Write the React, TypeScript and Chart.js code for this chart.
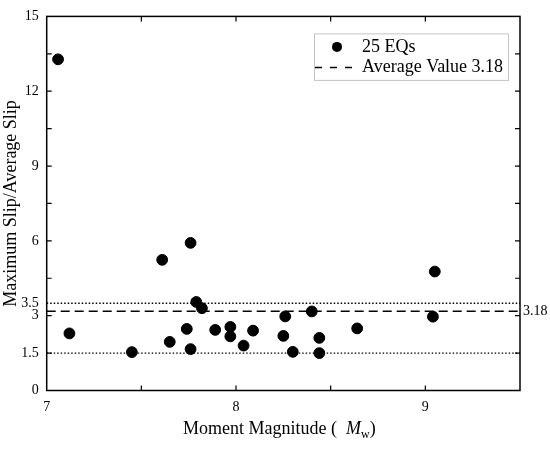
import { useEffect, useRef } from "react";
import { Chart, registerables } from "chart.js";

Chart.register(...registerables);

// moment magnitude (Mw) and max/average slip ratio of each event
const magnitudes = [
  7.06, 7.12, 7.45, 7.61, 7.65, 7.74, 7.76, 7.76, 7.79, 7.82, 7.89, 7.97,
  7.97, 8.04, 8.09, 8.25, 8.26, 8.3, 8.4, 8.44, 8.44, 8.64, 9.04, 9.05,
];
const slipRatios = [
  13.28, 2.29, 1.54, 5.24, 1.95, 2.47, 5.92, 1.66, 3.55, 3.3, 2.43, 2.55,
  2.17, 1.8, 2.4, 2.19, 2.97, 1.55, 3.17, 2.11, 1.5, 2.49, 2.96, 4.77,
];
const averageRatio = 3.18;
const upperRatio = 3.5;
const lowerRatio = 1.5;

const xLabelTicks = [7, 8, 9];
const xMarkTicks = [7.5, 8, 8.5, 9];
const yLabelTicks = [0, 1.5, 3, 3.5, 6, 9, 12, 15];
const yMarkTicks = [1.5, 3, 4.5, 6, 7.5, 9, 10.5, 12, 13.5];
const legendLabels = ["25 EQs", "Average Value 3.18"];

const FONT = "'Liberation Serif', 'Times New Roman', serif";
const INK = "#000";

const decorations = {
  id: "decorations",
  afterDraw(chart: Chart) {
    const { ctx, chartArea: a, scales } = chart;
    const x = scales.x;
    const y = scales.y;
    ctx.save();

    // frame
    ctx.strokeStyle = INK;
    ctx.lineWidth = 1.5;
    ctx.setLineDash([]);
    ctx.strokeRect(a.left, a.top, a.right - a.left, a.bottom - a.top);

    // inward tick marks on all four sides
    ctx.lineWidth = 1.2;
    ctx.beginPath();
    for (const v of xMarkTicks) {
      const px = x.getPixelForValue(v);
      ctx.moveTo(px, a.bottom);
      ctx.lineTo(px, a.bottom - 5);
      ctx.moveTo(px, a.top);
      ctx.lineTo(px, a.top + 5);
    }
    for (const v of yMarkTicks) {
      const py = y.getPixelForValue(v);
      ctx.moveTo(a.left, py);
      ctx.lineTo(a.left + 5, py);
      ctx.moveTo(a.right, py);
      ctx.lineTo(a.right - 5, py);
    }
    ctx.stroke();

    // average label on the right
    ctx.fillStyle = INK;
    ctx.font = `14px ${FONT}`;
    ctx.textBaseline = "middle";
    ctx.textAlign = "left";
    ctx.fillText(String(averageRatio), a.right + 3, y.getPixelForValue(averageRatio));

    // legend
    const lx = a.right - 206;
    const ly = a.top + 17;
    ctx.strokeStyle = "#c4c4c4";
    ctx.lineWidth = 1;
    ctx.strokeRect(lx + 0.5, ly + 0.5, 194, 46.5);
    ctx.fillStyle = INK;
    ctx.beginPath();
    ctx.arc(lx + 23, ly + 13.5, 5, 0, Math.PI * 2);
    ctx.fill();
    ctx.strokeStyle = INK;
    ctx.lineWidth = 1.5;
    ctx.setLineDash([7, 8]);
    ctx.beginPath();
    ctx.moveTo(lx + 1, ly + 34);
    ctx.lineTo(lx + 38, ly + 34);
    ctx.stroke();
    ctx.setLineDash([]);
    ctx.font = `18px ${FONT}`;
    ctx.fillText(legendLabels[0], lx + 48, ly + 14);
    ctx.fillText(legendLabels[1], lx + 48, ly + 34);

    // x axis title with italic M and subscript w
    const parts = [
      { t: "Moment Magnitude (  ", f: `18px ${FONT}`, dy: 0 },
      { t: "M", f: `italic 18px ${FONT}`, dy: 0 },
      { t: "w", f: `12px ${FONT}`, dy: 4 },
      { t: ")", f: `18px ${FONT}`, dy: 0 },
    ];
    let total = 0;
    for (const p of parts) {
      ctx.font = p.f;
      total += ctx.measureText(p.t).width;
    }
    let tx = (a.left + a.right) / 2 - 4 - total / 2;
    ctx.textBaseline = "alphabetic";
    for (const p of parts) {
      ctx.font = p.f;
      ctx.fillText(p.t, tx, 434 + p.dy);
      tx += ctx.measureText(p.t).width;
    }
    ctx.restore();
  },
};

export default function App() {
  const canvasRef = useRef<HTMLCanvasElement>(null);

  useEffect(() => {
    document.body.style.margin = "0";
    const ctx = canvasRef.current?.getContext("2d");
    if (!ctx) return;

    const points = magnitudes.map((m, i) => ({ x: m, y: slipRatios[i] }));
    const hline = (v: number) => [
      { x: 7, y: v },
      { x: 9.5, y: v },
    ];

    const chart = new Chart(ctx, {
      type: "scatter",
      data: {
        datasets: [
          {
            label: legendLabels[0],
            data: points,
            backgroundColor: INK,
            borderColor: INK,
            pointRadius: 5.4,
            order: 0,
          },
          {
            type: "line",
            label: legendLabels[1],
            data: hline(averageRatio),
            borderColor: INK,
            borderWidth: 1.6,
            borderDash: [9, 5],
            pointRadius: 0,
            order: 1,
          },
          {
            type: "line",
            label: "upper",
            data: hline(upperRatio),
            borderColor: INK,
            borderWidth: 1.4,
            borderDash: [1.5, 2],
            pointRadius: 0,
            order: 1,
          },
          {
            type: "line",
            label: "lower",
            data: hline(lowerRatio),
            borderColor: INK,
            borderWidth: 1.4,
            borderDash: [1.5, 2],
            pointRadius: 0,
            order: 1,
          },
        ],
      },
      options: {
        responsive: false,
        animation: false,
        layout: { padding: { top: 12.3, right: 30, bottom: 0, left: 0 } },
        plugins: {
          legend: { display: false },
          tooltip: { enabled: false },
        },
        scales: {
          x: {
            type: "linear",
            min: 7,
            max: 9.5,
            afterBuildTicks: (s) => {
              s.ticks = xLabelTicks.map((value) => ({ value }));
            },
            afterFit: (s) => {
              s.height = 62.5;
            },
            ticks: {
              color: INK,
              padding: 8,
              font: { family: FONT, size: 14 },
              callback: (v) => String(v),
            },
            grid: { display: false, drawTicks: false },
            border: { display: false },
          },
          y: {
            type: "linear",
            min: 0,
            max: 15,
            afterBuildTicks: (s) => {
              s.ticks = yLabelTicks.map((value) => ({ value }));
            },
            afterFit: (s) => {
              s.width = 46.7;
            },
            ticks: {
              color: INK,
              padding: 8,
              font: { family: FONT, size: 14 },
              callback: (v) => String(v),
            },
            title: {
              display: true,
              text: "Maximum Slip/Average Slip",
              color: INK,
              padding: { top: 0, bottom: 0 },
              font: { family: FONT, size: 18 },
            },
            grid: { display: false, drawTicks: false },
            border: { display: false },
          },
        },
      },
      plugins: [decorations],
    });

    return () => {
      chart.destroy();
    };
  }, []);

  return <canvas ref={canvasRef} width={550} height={453} />;
}
